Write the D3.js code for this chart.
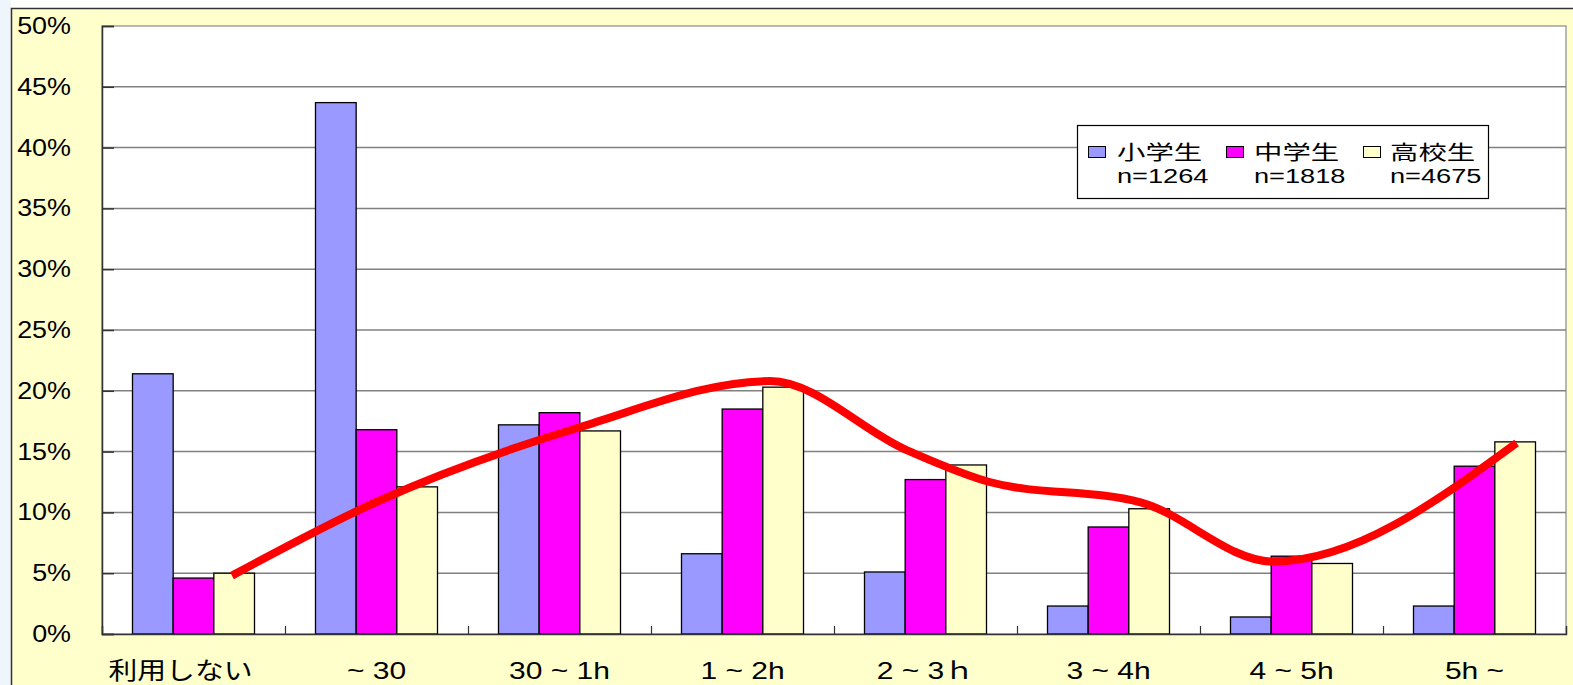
<!DOCTYPE html>
<html>
<head>
<meta charset="utf-8">
<script src="https://cdn.jsdelivr.net/npm/d3@7"></script>
<style>
  html, body { margin: 0; padding: 0; background: #fff; overflow: hidden; }
  svg { display: block; }
  text { font-family: "Liberation Sans", Arial, "Noto Sans CJK JP", sans-serif; fill: #000; }
</style>
</head>
<body>
<div id="chart"></div>
<script>
// データ
const categories = ["利用しない", "~ 30", "30 ~ 1h", "1 ~ 2h", "2 ~ 3ｈ", "3 ~ 4h", "4 ~ 5h", "5h ~"];
const seriesNames = ["小学生", "中学生", "高校生"];
const seriesN = ["n=1264", "n=1818", "n=4675"];
const elementary = [21.4, 43.7, 17.2, 6.6, 5.1, 2.3, 1.4, 2.3];
const juniorHigh = [4.6, 16.8, 18.2, 18.5, 12.7, 8.8, 6.4, 13.8];
const highSchool = [5.0, 12.1, 16.7, 20.3, 13.9, 10.3, 5.8, 15.8];
const yTicks = [0, 5, 10, 15, 20, 25, 30, 35, 40, 45, 50];
// 手書きの傾向線 (x: カテゴリ単位, y: %)
const trendX = [0.71, 1.52, 2.61, 3.65, 4.40, 4.85, 5.68, 6.40, 7.73];
const trendY = [4.8, 11.0, 17.0, 20.8, 15.1, 12.5, 10.8, 5.95, 15.7];

const W = 1573, H = 685;
const colors = ["#9999FF", "#FF00FF", "#FFFFCC"];
const values = [elementary, juniorHigh, highSchool];

const svg = d3.select("#chart").append("svg")
    .attr("width", W).attr("height", H);

// 外枠
svg.append("rect").attr("x", 0).attr("y", 0).attr("width", 11).attr("height", H).attr("fill", "#EEF5FB");
svg.append("rect").attr("x", 11).attr("y", 8).attr("width", W).attr("height", H)
    .attr("fill", "#FFFFCC");
svg.append("path").attr("d", `M11.5,${H} V8.5 H${W}`)
    .attr("fill", "none").attr("stroke", "#333").attr("stroke-width", 1.5);

const plot = { left: 102, right: 1566, top: 26, bottom: 634 };

const x = d3.scaleBand().domain(categories).range([plot.left, plot.right]).padding(0);
const xSub = d3.scaleBand().domain(seriesNames).range([0, x.bandwidth()])
    .paddingInner(0).paddingOuter(0.75);
const y = d3.scaleLinear().domain([0, 50]).range([plot.bottom, plot.top]);
const xCat = d3.scaleLinear().domain([0, categories.length]).range([plot.left, plot.right]);

// プロットエリア
svg.append("rect")
    .attr("x", plot.left).attr("y", plot.top)
    .attr("width", plot.right - plot.left).attr("height", plot.bottom - plot.top)
    .attr("fill", "#fff").attr("stroke", "#a0a0a0").attr("stroke-width", 1.5);

// 目盛線
svg.append("g").selectAll("line").data(yTicks.filter(d => d > 0 && d < 50)).enter()
    .append("line")
    .attr("x1", plot.left).attr("x2", plot.right)
    .attr("y1", d => y(d)).attr("y2", d => y(d))
    .attr("stroke", "#808080").attr("stroke-width", 1.5);

// Y軸
const yAxis = svg.append("g")
    .attr("transform", `translate(${plot.left},0)`)
    .call(d3.axisRight(y).tickValues(yTicks).tickSize(12).tickFormat(""));
yAxis.select(".domain").attr("stroke", "#333").attr("stroke-width", 1.5);
yAxis.selectAll(".tick line").attr("stroke", "#333").attr("stroke-width", 1.5);

svg.append("g").selectAll("text").data(yTicks).enter()
    .append("text")
    .attr("text-anchor", "end")
    .attr("font-size", 23)
    .attr("transform", d => `translate(71,${y(d) + 8}) scale(1.17,1)`)
    .text(d => d + "%");

// 棒
const groups = svg.append("g").selectAll("g").data(categories).enter()
    .append("g")
    .attr("transform", d => `translate(${x(d)},0)`);

groups.selectAll("rect")
    .data((c, i) => seriesNames.map((s, k) => ({ s, k, v: values[k][i] })))
    .enter().append("rect")
    .attr("x", d => xSub(d.s))
    .attr("y", d => y(d.v))
    .attr("width", xSub.bandwidth())
    .attr("height", d => y(0) - y(d.v))
    .attr("fill", d => colors[d.k])
    .attr("stroke", "#000")
    .attr("stroke-width", 1.3);

// X軸
const xAxis = svg.append("g")
    .attr("transform", `translate(0,${plot.bottom})`)
    .call(d3.axisTop(xCat).tickValues(d3.range(1, categories.length)).tickSize(8).tickFormat(""));
xAxis.select(".domain").attr("stroke", "#333").attr("stroke-width", 1.5);
xAxis.selectAll(".tick line").attr("stroke", "#333").attr("stroke-width", 1.2);

svg.append("g").selectAll("text").data(categories).enter()
    .append("text")
    .attr("text-anchor", "middle")
    .attr("font-size", 24)
    .attr("transform", (d, i) => `translate(${x(d) + x.bandwidth() / 2 - (i === 0 ? 13 : 0)},679) scale(${i === 0 ? 1.2 : 1.25},1)`)
    .text(d => d);

// 傾向線
const trend = trendX.map((v, i) => [xCat(v), y(trendY[i])]);
svg.append("path")
    .attr("d", d3.line().curve(d3.curveMonotoneX)(trend))
    .attr("fill", "none")
    .attr("stroke", "#FF0000")
    .attr("stroke-width", 8);

// 凡例
const legend = svg.append("g");
legend.append("rect")
    .attr("x", 1077.5).attr("y", 125.5).attr("width", 411).attr("height", 73)
    .attr("fill", "#fff").attr("stroke", "#000").attr("stroke-width", 1.2);
const legX = [1088, 1226, 1363];
const legTextX = [1117, 1254, 1390];
seriesNames.forEach((s, k) => {
    legend.append("rect")
        .attr("x", legX[k] + 0.5).attr("y", 146.5).attr("width", 17).attr("height", 11)
        .attr("fill", colors[k]).attr("stroke", "#000").attr("stroke-width", 1);
    legend.append("text")
        .attr("font-size", 20)
        .attr("transform", `translate(${legTextX[k]},160) scale(1.42,1)`)
        .text(s);
    legend.append("text")
        .attr("font-size", 20)
        .attr("transform", `translate(${legTextX[k]},183) scale(1.36,1)`)
        .text(seriesN[k]);
});
</script>
</body>
</html>
